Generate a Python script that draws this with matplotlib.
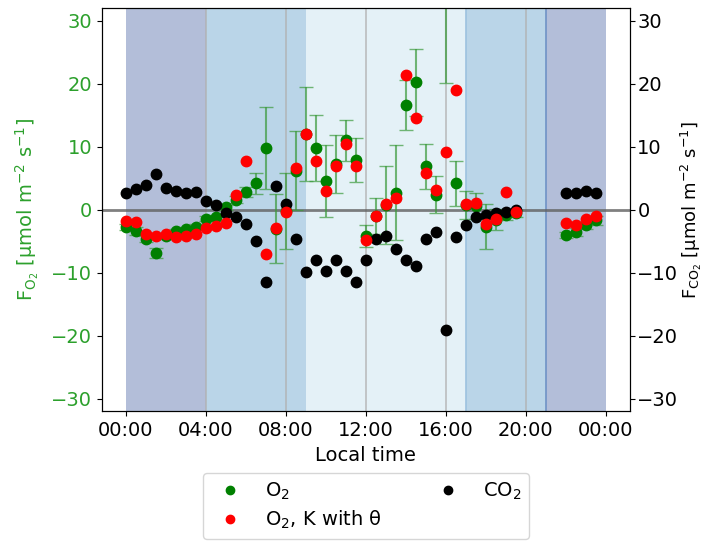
import numpy as np
import matplotlib
matplotlib.use("Agg")
import matplotlib.pyplot as plt
from matplotlib.lines import Line2D
from matplotlib.ticker import FixedLocator, FixedFormatter

# local time in hours
hours = [0.0, 0.5, 1.0, 1.5, 2.0, 2.5, 3.0, 3.5, 4.0, 4.5,
         5.0, 5.5, 6.0, 6.5, 7.0, 7.5, 8.0, 8.5, 9.0, 9.5,
         10.0, 10.5, 11.0, 11.5, 12.0, 12.5, 13.0, 13.5, 14.0, 14.5,
         15.0, 15.5, 16.0, 16.5, 17.0, 17.5, 18.0, 18.5, 19.0, 19.5,
         22.0, 22.5, 23.0, 23.5]

f_o2 = [-2.8, -3.4, -4.7, -6.9, -4.2, -3.4, -3.1, -2.7, -1.4, -1.2,
        0.4, 1.6, 2.8, 4.2, 9.8, -3.0, -0.2, 6.2, 12.0, 9.8,
        4.5, 7.2, 11.0, 7.9, -4.2, -1.0, 0.8, 2.7, 16.6, 20.2,
        6.9, 2.4, 36.0, 4.2, 0.8, 0.6, -2.7, -1.6, -0.9, -0.6,
        -4.0, -3.5, -2.5, -1.7]

f_o2_err = [0.5, 0.6, 0.5, 0.8, 0.4, 0.4, 0.4, 0.4, 0.4, 0.4,
            0.4, 0.5, 0.8, 1.7, 6.5, 5.5, 6.0, 6.3, 7.5, 5.3,
            5.7, 4.6, 3.2, 3.5, 1.7, 2.8, 6.2, 7.5, 4.0, 5.3,
            3.6, 3.0, 15.9, 3.6, 2.2, 2.0, 3.6, 1.7, 0.8, 0.5,
            0.5, 0.6, 0.6, 0.7]

f_o2_theta = [-1.8, -1.9, -3.8, -4.1, -3.9, -4.3, -4.2, -3.8, -2.9, -2.6,
              -2.1, 2.4, 7.7, np.nan, -7.1, -2.9, -0.3, 6.7, 12.0, 7.8,
              3.0, 7.0, 10.5, 7.0, -4.8, -1.0, 0.9, 1.9, 21.4, 14.5,
              5.8, 3.2, 9.1, 19.0, 0.9, 1.1, -2.2, -1.4, 2.8, -0.4,
              -2.1, -2.5, -1.4, -1.0]

f_co2 = [2.6, 3.3, 4.0, 5.6, 3.5, 2.9, 2.7, 2.8, 1.4, 0.7,
         -0.5, -1.2, -2.2, -5.0, -11.4, 3.7, 0.9, -4.7, -9.9, -8.0,
         -9.7, -8.0, -9.7, -11.4, -8.0, -4.7, -4.2, -6.3, -8.0, -9.0,
         -4.7, -3.5, -19.1, -4.3, -2.4, -1.2, -0.9, -0.5, -0.3, 0.0,
         2.7, 2.7, 3.0, 2.7]

tick_hours = [0, 4, 8, 12, 16, 20, 24]
tick_labels = ["00:00", "04:00", "08:00", "12:00", "16:00", "20:00", "00:00"]
flux_ticks = [-30, -20, -10, 0, 10, 20, 30]

# (start, end, colour) of the light periods
periods = [(0, 4, "#b3bed9"), (4, 9, "#bad5e8"), (9, 17, "#e4f1f7"),
           (17, 21, "#bad5e8"), (21, 24, "#b3bed9")]

plt.rcParams["font.size"] = 14
o2_col = "#2ca02c"

fig = plt.figure(figsize=(7.02, 5.44), dpi=100)
ax = fig.add_axes([0.145, 0.244, 0.752, 0.741])
ax2 = ax.twinx()

for start, end, col in periods:
    ax.axvspan(start, end, color=col, lw=0)
ax.axvline(17, color="#9cc2df", lw=1.2)
ax.axvline(21, color="#6f92c6", lw=1.2)

for h in tick_hours[1:-1]:
    ax.axvline(h, color="#b0b0b0", lw=1.2, alpha=0.8)
ax.axhline(0, color="#606060", lw=2, alpha=0.8)

eb = ax.errorbar(hours, f_o2, yerr=f_o2_err, fmt="o", color="green", ms=7.5,
                 ecolor="#3c9a3c", elinewidth=1.5, capsize=5, zorder=2)
for cap in eb[1]:
    cap.set_alpha(0.7)
for bar in eb[2]:
    bar.set_alpha(0.7)
# CO2 drawn on the same scale, right axis only carries the ticks
ax.plot(hours, f_co2, "o", color="black", ms=7.5, zorder=2.5)
ax.plot(hours, f_o2_theta, "o", color="red", ms=7.5, zorder=3)

ax.set_xlim(-1.2, 25.2)
ax.set_ylim(-32, 32)
ax2.set_ylim(-32, 32)
ax.set_yticks(flux_ticks)
ax2.set_yticks(flux_ticks)
ax.xaxis.set_major_locator(FixedLocator(tick_hours))
ax.xaxis.set_major_formatter(FixedFormatter(tick_labels))
ax.tick_params(axis="y", labelcolor=o2_col)
ax2.tick_params(axis="y", pad=2)

ax.set_xlabel("Local time")
ax.set_ylabel("F$_{\\mathrm{O_2}}$ [μmol m$^{-2}$ s$^{-1}$]", color=o2_col,
              labelpad=7)
ax2.set_ylabel("F$_{\\mathrm{CO_2}}$ [μmol m$^{-2}$ s$^{-1}$]", labelpad=0,
               fontsize=13)

handles = [Line2D([], [], ls="", marker="o", color="green", ms=6),
           Line2D([], [], ls="", marker="o", color="red", ms=6),
           Line2D([], [], ls="", marker="o", color="black", ms=6)]
labels = ["O$_2$", "O$_2$, K with θ", "CO$_2$"]
fig.legend(handles, labels, ncol=2, loc="upper center",
           bbox_to_anchor=(0.521, 0.148), handletextpad=0.8,
           columnspacing=2.4, labelspacing=0.35, fontsize=14)

fig.savefig("out.png", dpi=100)
